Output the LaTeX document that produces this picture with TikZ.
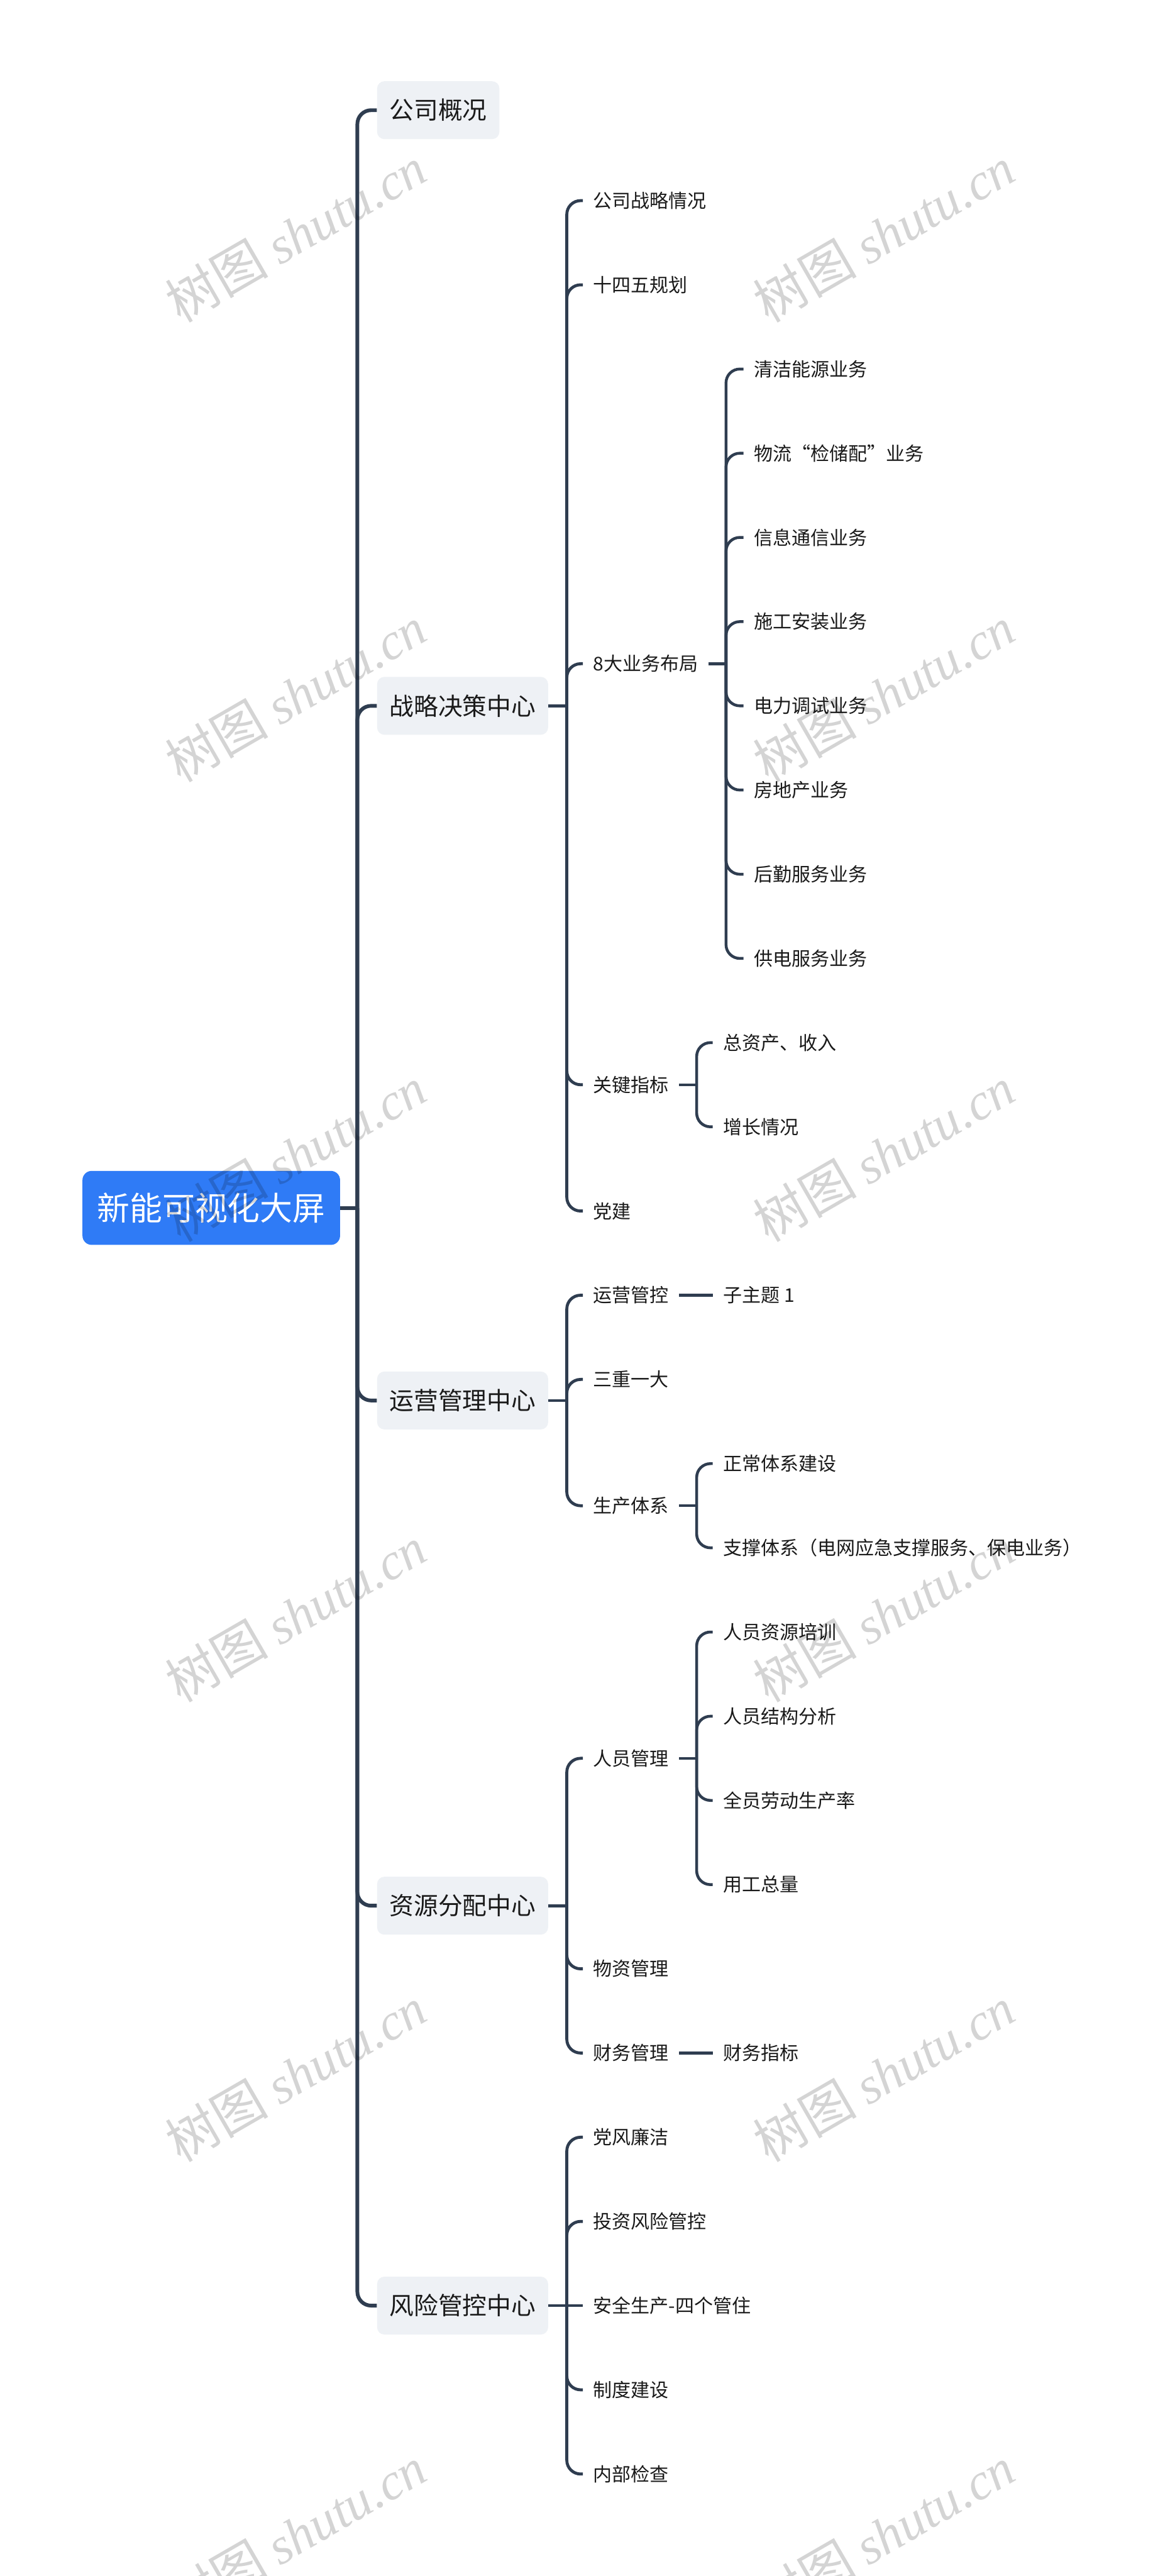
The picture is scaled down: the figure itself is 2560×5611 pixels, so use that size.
\documentclass[tikz,border=0pt]{standalone}
\usepackage{fontspec}
\setmainfont{Noto Sans CJK SC}
\newfontfamily\wmcjk{Noto Sans CJK SC}
\newfontfamily\wmlatin{Liberation Serif}
\definecolor{lineC}{HTML}{2F3D50}
\definecolor{rootblue}{HTML}{2F7BF6}
\definecolor{topicgray}{HTML}{EEF1F5}
\definecolor{textC}{HTML}{1A1A1A}
\begin{document}
\begin{tikzpicture}[x=0.01cm,y=-0.01cm,
  rootbox/.style={fill=rootblue, text=white, rounded corners=0.2cm, font=\fontsize{20.2pt}{24pt}\selectfont, inner xsep=0.32cm, inner ysep=0pt, minimum height=1.61cm, anchor=west},
  topicbox/.style={fill=topicgray, text=textC, rounded corners=0.16cm, font=\fontsize{15.1pt}{18pt}\selectfont, inner xsep=0.27cm, inner ysep=0pt, minimum height=1.26cm, anchor=west},
  leaf/.style={text=textC, font=\fontsize{11.7pt}{14pt}\selectfont, inner xsep=0.22cm, inner ysep=0.05cm, anchor=west},
  trunk/.style={draw=lineC, line width=2.3pt},
  branch/.style={draw=lineC, line width=1.85pt},
  twig/.style={draw=lineC, line width=1.75pt},
  wm/.style={rotate=30, text=black, text opacity=0.17, font=\fontsize{32pt}{36pt}\selectfont, inner sep=0pt}
]
\useasboundingbox[fill=white] (0,0) rectangle (2560,5611);

% root and level 1
\node[rootbox] (root) at (179,2631) {新能可视化大屏};
\node[topicbox] (t1) at (821,240) {公司概况};
\node[topicbox] (t2) at (821,1537.4) {战略决策中心};
\node[topicbox] (t3) at (821,3050.5) {运营管理中心};
\node[topicbox] (t4) at (821,4150.9) {资源分配中心};
\node[topicbox] (t5) at (821,5022) {风险管控中心};

% level 2
\node[leaf] (a1) at (1270,437) {公司战略情况};
\node[leaf] (a2) at (1270,620.4) {十四五规划};
\node[leaf] (a3) at (1270,1445.7) {8大业务布局};
\node[leaf] (a4) at (1270,2362.7) {关键指标};
\node[leaf] (a5) at (1270,2637.8) {党建};
\node[leaf] (b1) at (1270,2821.2) {运营管控};
\node[leaf] (b2) at (1270,3004.6) {三重一大};
\node[leaf] (b3) at (1270,3279.7) {生产体系};
\node[leaf] (c1) at (1270,3829.9) {人员管理};
\node[leaf] (c2) at (1270,4288.4) {物资管理};
\node[leaf] (c3) at (1270,4471.8) {财务管理};
\node[leaf] (d1) at (1270,4655.2) {党风廉洁};
\node[leaf] (d2) at (1270,4838.6) {投资风险管控};
\node[leaf] (d3) at (1270,5022) {安全生产-四个管住};
\node[leaf] (d4) at (1270,5205.4) {制度建设};
\node[leaf] (d5) at (1270,5388.8) {内部检查};

% level 3
\node[leaf] (e1) at (1620,803.8) {清洁能源业务};
\node[leaf] (e2) at (1620,987.2) {物流“检储配”业务};
\node[leaf] (e3) at (1620,1170.6) {信息通信业务};
\node[leaf] (e4) at (1620,1354) {施工安装业务};
\node[leaf] (e5) at (1620,1537.4) {电力调试业务};
\node[leaf] (e6) at (1620,1720.8) {房地产业务};
\node[leaf] (e7) at (1620,1904.2) {后勤服务业务};
\node[leaf] (e8) at (1620,2087.6) {供电服务业务};
\node[leaf] (f1) at (1553,2271) {总资产、收入};
\node[leaf] (f2) at (1553,2454.4) {增长情况};
\node[leaf] (g1) at (1553,2821.2) {子主题 1};
\node[leaf] (h1) at (1553,3188) {正常体系建设};
\node[leaf] (h2) at (1553,3371.4) {支撑体系（电网应急支撑服务、保电业务）};
\node[leaf] (k1) at (1553,3554.8) {人员资源培训};
\node[leaf] (k2) at (1553,3738.2) {人员结构分析};
\node[leaf] (k3) at (1553,3921.6) {全员劳动生产率};
\node[leaf] (k4) at (1553,4105) {用工总量};
\node[leaf] (m1) at (1553,4471.8) {财务指标};

% connectors: root -> level 1
\draw[trunk] (root.east) -- ++(37,0) coordinate (rj);
\foreach \n in {t1,t2,t3,t4,t5} \draw[trunk, rounded corners=0.3cm] (rj) |- (\n.west);

% t2
\draw[branch] (t2.east) -- ++(40,0) coordinate (j2);
\foreach \n in {a1,a2,a3,a4,a5} \draw[branch, rounded corners=0.3cm] (j2) |- (\n.west);
% t3
\draw[branch] (t3.east) -- ++(40,0) coordinate (j3);
\foreach \n in {b1,b2,b3} \draw[branch, rounded corners=0.3cm] (j3) |- (\n.west);
% t4
\draw[branch] (t4.east) -- ++(40,0) coordinate (j4);
\foreach \n in {c1,c2,c3} \draw[branch, rounded corners=0.3cm] (j4) |- (\n.west);
% t5
\draw[branch] (t5.east) -- ++(40,0) coordinate (j5);
\foreach \n in {d1,d2,d4,d5} \draw[branch, rounded corners=0.3cm] (j5) |- (\n.west);
\draw[branch] (j5) -- (d3.west);

% 8大业务布局
\draw[twig] (a3.east) -- ++(38,0) coordinate (ja3);
\foreach \n in {e1,e2,e3,e4,e5,e6,e7,e8} \draw[twig, rounded corners=0.3cm] (ja3) |- (\n.west);
% 关键指标
\draw[twig] (a4.east) -- ++(38,0) coordinate (ja4);
\foreach \n in {f1,f2} \draw[twig, rounded corners=0.3cm] (ja4) |- (\n.west);
% 运营管控
\draw[twig] (b1.east) -- (g1.west);
% 生产体系
\draw[twig] (b3.east) -- ++(38,0) coordinate (jb3);
\foreach \n in {h1,h2} \draw[twig, rounded corners=0.3cm] (jb3) |- (\n.west);
% 人员管理
\draw[twig] (c1.east) -- ++(38,0) coordinate (jc1);
\foreach \n in {k1,k2,k3,k4} \draw[twig, rounded corners=0.3cm] (jc1) |- (\n.west);
% 财务管理
\draw[twig] (c3.east) -- (m1.west);

% watermarks
\foreach \yy [count=\i] in {510,1512,2514,3516,4518,5520} {
  \node[wm] (wl\i) at (644,\yy) {{\wmcjk 树图} {\wmlatin\itshape shutu.cn}};
  \node[wm] (wr\i) at (1926,\yy) {{\wmcjk 树图} {\wmlatin\itshape shutu.cn}};
}
\end{tikzpicture}
\end{document}
